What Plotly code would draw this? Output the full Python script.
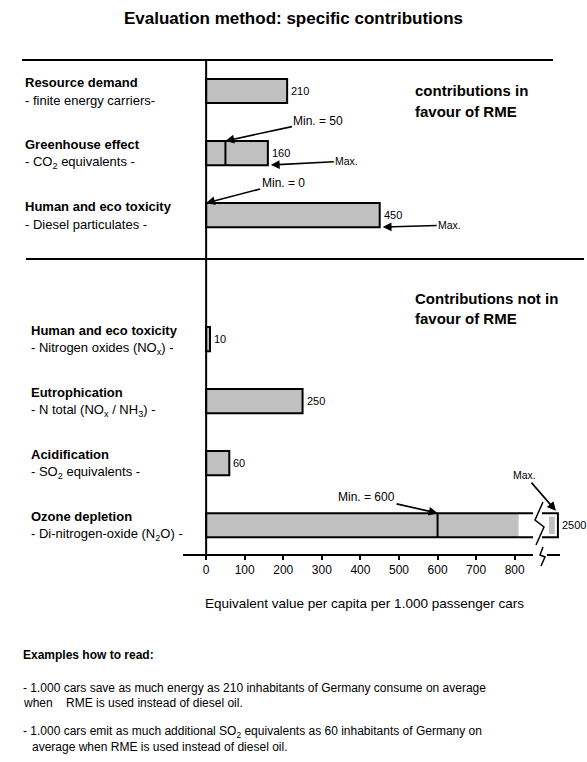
import plotly.graph_objects as go

# categories (top group = in favour of RME, bottom group = not in favour)
titles = ["Resource demand", "Greenhouse effect", "Human and eco toxicity",
          "Human and eco toxicity", "Eutrophication", "Acidification", "Ozone depletion"]
subtitles = ["- finite energy carriers-", "- CO<sub>2</sub> equivalents -", "- Diesel particulates -",
             "- Nitrogen oxides (NO<sub>x</sub>) -", "- N total (NO<sub>x</sub> / NH<sub>3</sub>) -",
             "- SO<sub>2</sub> equivalents -", "- Di-nitrogen-oxide (N<sub>2</sub>O) -"]
positions = [0, 1, 2, 4, 5, 6, 7]
values = [210, 160, 450, 10, 250, 60, 2500]

# min markers: category index -> min value
min_marks = {1: 50, 2: 0, 6: 600}

tick_vals = [0, 100, 200, 300, 400, 500, 600, 700, 800]

AXIS_BREAK = 810   # where the broken bar is cut
BREAK_END = 912    # where the broken bar is drawn to end
BAR_W = 0.39

FONT = "Arial, Liberation Sans, sans-serif"
GREY = "#c0c0c0"

W, H = 587, 762
# plot area in pixels (left, right, top, bottom)
L, R, T, B = 183, 561, 60, 555


def PX(px):
    return (px - L) / (R - L)


def PY(py):
    return (B - py) / (B - T)


grey_x = [min(v, AXIS_BREAK) for v in values]
outline_x = [v if v <= 800 else BREAK_END for v in values]

fig = go.Figure()

fig.add_trace(go.Bar(
    y=positions, x=grey_x, orientation="h", width=BAR_W, textposition="none",
    marker=dict(color=GREY, line=dict(width=0)), hoverinfo="skip"))

# small grey part after the break for values beyond the axis
big = [i for i, v in enumerate(values) if v > 800]
fig.add_trace(go.Bar(
    y=[positions[i] for i in big], x=[15 for _ in big], base=[BREAK_END - 23 for _ in big],
    orientation="h", width=0.28, textposition="none",
    marker=dict(color=GREY, line=dict(width=0)), hoverinfo="skip"))

fig.add_trace(go.Bar(
    y=positions, x=outline_x, orientation="h", width=BAR_W, textposition="none",
    marker=dict(color="rgba(0,0,0,0)", line=dict(color="black", width=2)),
    hoverinfo="skip"))

shapes = []
annotations = []

# frame lines
line = dict(color="black", width=2)
shapes.append(dict(type="line", xref="paper", yref="paper", x0=PX(22), x1=PX(553), y0=1, y1=1, line=line))
shapes.append(dict(type="line", xref="paper", yref="paper", x0=PX(26), x1=PX(584), y0=PY(259), y1=PY(259), line=line))
shapes.append(dict(type="line", xref="x", yref="paper", x0=0, x1=0, y0=0, y1=1, line=line))
# x axis line with break
shapes.append(dict(type="line", xref="paper", yref="paper", x0=0, x1=PX(533), y0=0, y1=0, line=line))
shapes.append(dict(type="line", xref="paper", yref="paper", x0=PX(547), x1=PX(560), y0=0, y1=0, line=line))
zz_axis = [(543, 547), (540, 555), (545, 557), (541, 566)]
shapes.append(dict(type="path", xref="paper", yref="paper",
                   path="M" + " L".join(f"{PX(a)},{PY(b)}" for a, b in zz_axis),
                   line=dict(color="black", width=1.5)))

# min marker lines inside bars
for i, m in min_marks.items():
    if m > 0:
        shapes.append(dict(type="line", xref="x", yref="y", x0=m, x1=m,
                           y0=positions[i] - BAR_W / 2, y1=positions[i] + BAR_W / 2,
                           line=line))

# break on the long bar
for i in big:
    yc = positions[i]
    shapes.append(dict(type="rect", xref="paper", yref="y", x0=PX(533), x1=PX(542),
                       y0=yc - 0.3, y1=yc + 0.3, fillcolor="white", line=dict(width=0)))
    zz = [(543, 502), (535, 520), (544, 527), (536, 545)]
    shapes.append(dict(type="path", xref="paper", yref="paper",
                       path="M" + " L".join(f"{PX(a)},{PY(b)}" for a, b in zz),
                       line=dict(color="black", width=1.5)))

lab = dict(size=13, color="black", family=FONT)
val = dict(size=11, color="black", family=FONT)

# left labels and value labels
for i, p in enumerate(positions):
    xl = PX(23) if p < 3 else PX(29)
    annotations.append(dict(x=xl, y=p, xref="paper", yref="y", xanchor="left", yanchor="middle",
                            yshift=9, text=f"<b>{titles[i]}</b>", showarrow=False, font=lab))
    annotations.append(dict(x=xl, y=p, xref="paper", yref="y", xanchor="left", yanchor="middle",
                            yshift=-9, text=subtitles[i], showarrow=False, font=lab))
    annotations.append(dict(x=outline_x[i], y=p, xref="x", yref="y", xanchor="left", yanchor="middle",
                            xshift=2, text=str(values[i]), showarrow=False, font=val))

arrow = dict(showarrow=True, arrowhead=2, arrowsize=1.1, arrowwidth=1.6, arrowcolor="black",
             axref="pixel", ayref="pixel")

# min arrows: text centre offset from the arrow tip (pixels)
min_geo = {1: (93, -20), 2: (77, -20), 6: (-71, -16)}
for i, m in min_marks.items():
    ax, ay = min_geo[i]
    annotations.append(dict(x=m, y=positions[i] - BAR_W / 2, xref="x", yref="y", ax=ax, ay=ay,
                            text=f"Min. = {m}", font=dict(size=12, color="black", family=FONT), **arrow))

# max arrows
max_geo = {1: (79, -4, 1), 2: (70, -2, 1), 6: (-33, -38, -1)}
for i, (ax, ay, side) in max_geo.items():
    yb = positions[i] + side * BAR_W / 2
    annotations.append(dict(x=outline_x[i], y=yb, xref="x", yref="y", ax=ax, ay=ay, standoff=3,
                            text="Max.", font=dict(size=10.5, color="black", family=FONT), **arrow))

# section headers
hdr = dict(size=15, color="black", family=FONT)
for txt, py in [("<b>contributions in</b>", 91), ("<b>favour of RME</b>", 111),
                ("<b>Contributions not in</b>", 298), ("<b>favour of RME</b>", 318)]:
    annotations.append(dict(x=PX(413), y=PY(py), xref="paper", yref="paper", xanchor="left",
                            yanchor="middle", text=txt, showarrow=False, font=hdr))

# axis title
annotations.append(dict(x=PX(364), y=PY(603), xref="paper", yref="paper", xanchor="center",
                        yanchor="middle", text="Equivalent value per capita per 1.000 passenger cars",
                        showarrow=False, font=dict(size=13.5, color="black", family=FONT)))

# reading examples
body = dict(size=12, color="black", family=FONT)
notes = [
    (21, 655, "<b>Examples how to read:</b>"),
    (21, 688, "- 1.000 cars save as much energy as 210 inhabitants of Germany consume on average"),
    (21, 703, "when    RME is used instead of diesel oil."),
    (21, 732, "- 1.000 cars emit as much additional SO<sub>2</sub> equivalents as 60 inhabitants of Germany on"),
    (30, 747, "average when RME is used instead of diesel oil."),
]
for px, py, txt in notes:
    annotations.append(dict(x=PX(px), y=PY(py), xref="paper", yref="paper", xanchor="left",
                            yanchor="middle", text=txt, showarrow=False, font=body))

fig.update_layout(
    width=W, height=H,
    margin=dict(l=L, r=W - R, t=T, b=H - B),
    paper_bgcolor="white", plot_bgcolor="white",
    barmode="overlay", showlegend=False,
    title=dict(text="<b>Evaluation method: specific contributions</b>", x=0.5, xanchor="center",
               y=1 - 18 / H, yanchor="middle", font=dict(size=17, color="black", family=FONT)),
    xaxis=dict(range=[-60, 920], tickvals=tick_vals, ticks="outside", ticklen=4, tickwidth=1.5,
               tickcolor="black", showline=False, showgrid=False, zeroline=False,
               tickfont=dict(size=12, color="black", family=FONT)),
    yaxis=dict(range=[7.48, -0.5], showticklabels=False, showgrid=False, zeroline=False,
               showline=False, ticks=""),
    shapes=shapes, annotations=annotations,
)

# drop the default page margin so the figure fills the window exactly
fig.write_html("out.html", config={"displayModeBar": False},
               post_script="document.body.style.margin='0';document.body.style.overflow='hidden';")
